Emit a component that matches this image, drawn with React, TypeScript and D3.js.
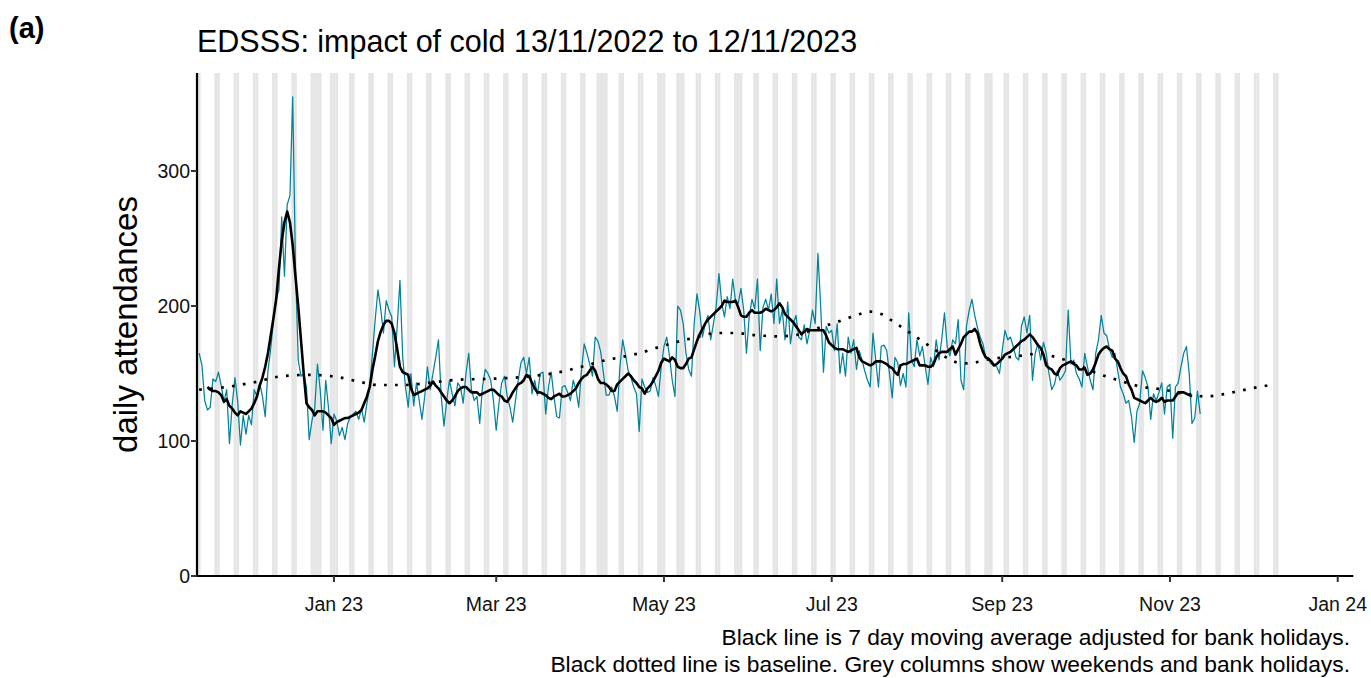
import React, { useEffect } from "react";
import * as d3 from "d3";

// ---------- data ----------
const START_DATE = "2022-11-13"; // first daily value
const CALENDAR_END = "2023-12-10"; // grey columns drawn up to this date
const X_DOMAIN = ["2022-11-12T04:48:00Z", "2024-01-06T16:48:00Z"];
const Y_MAX = 372.6;
const yTicks = [0, 100, 200, 300];

const titleText = "EDSSS: impact of cold 13/11/2022 to 12/11/2023";
const panelLabel = "(a)";
const yLabel = "daily attendances";
const captionLines = [
  "Black line is 7 day moving average adjusted for bank holidays.",
  "Black dotted line is baseline. Grey columns show weekends and bank holidays.",
];

const bankHolidays = [
  "2022-12-26", "2022-12-27", "2023-01-02", "2023-04-07", "2023-04-10",
  "2023-05-01", "2023-05-08", "2023-05-29", "2023-08-28",
];

// daily attendances, one per day from START_DATE
const dailyAttendances = [
  165, 156, 130, 123, 125, 146, 144,
  151, 141, 129, 138, 98, 127, 147,
  129, 97, 119, 105, 119, 112, 138,
  133, 143, 133, 118, 152, 168, 190,
  205, 212, 266, 222, 275, 282, 355,
  230, 160, 148, 150, 140, 101, 115,
  124, 157, 138, 108, 145, 125, 98,
  120, 115, 104, 110, 101, 113, 118,
  120, 122, 116, 124, 114, 128, 140,
  165, 190, 212, 198, 180, 204, 197,
  192, 155, 185, 219, 162, 140, 125,
  150, 126, 143, 130, 116, 133, 155,
  138, 150, 162, 175, 133, 111, 130,
  145, 135, 126, 143, 140, 128, 150,
  165, 138, 130, 133, 113, 140, 153,
  150, 145, 130, 108, 128, 143, 148,
  133, 125, 114, 130, 145, 158, 162,
  150, 162, 135, 145, 134, 150, 151,
  120, 140, 151, 133, 118, 117, 140,
  141, 136, 130, 145, 138, 125, 152,
  172, 165, 157, 148, 177, 174, 166,
  150, 134, 134, 140, 133, 122, 155,
  175, 164, 152, 147, 140, 135, 107,
  146, 140, 136, 137, 147, 141, 133,
  155, 170, 177, 163, 145, 133, 200,
  197, 187, 165, 153, 148, 187, 209,
  196, 177, 187, 193, 175, 187, 200,
  224, 202, 192, 207, 198, 220, 204,
  202, 213, 197, 165, 192, 205, 198,
  220, 167, 199, 205, 197, 209, 187,
  220, 187, 197, 175, 203, 172, 187,
  193, 177, 175, 186, 172, 182, 197,
  187, 239, 199, 151, 185, 180, 182,
  167, 187, 150, 165, 148, 177, 165,
  175, 153, 167, 160, 152, 145, 140,
  180, 160, 140, 170, 171, 167, 150,
  132, 162, 158, 141, 150, 140, 195,
  160, 155, 175, 163, 170, 155, 142,
  162, 155, 175, 160, 175, 195, 170,
  163, 175, 172, 190, 145, 138, 185,
  197, 205, 193, 184, 177, 172, 162,
  160, 157, 156, 155, 150, 167, 182,
  175, 177, 170, 162, 160, 185, 192,
  180, 193, 145, 165, 172, 160, 173,
  165, 150, 138, 142, 152, 145, 148,
  152, 197, 157, 160, 150, 146, 140,
  165, 155, 145, 138, 165, 175, 193,
  180, 178, 168, 162, 165, 152, 140,
  135, 128, 130, 118, 99, 122, 128,
  152, 147, 140, 116, 135, 130, 136,
  143, 120, 140, 142, 102, 140, 143,
  155, 165, 170, 150, 113, 117, 137,
  120,
];

// 7 day moving average, one per day starting MA_OFFSET days after START_DATE
const MA_OFFSET = 3;
const movingAverage = [
  140, 138, 137, 137, 136, 134, 129, 131, 126, 124,
  121, 119, 122, 121, 120, 122, 124, 128, 133, 141,
  147, 155, 165, 178, 191, 205, 228, 248, 262, 270,
  262, 245, 222, 200, 175, 150, 128, 125, 123, 119,
  122, 122, 122, 121, 119, 117, 112, 114, 115, 116,
  117, 117, 118, 119, 120, 121, 123, 128, 133, 140,
  153, 163, 174, 181, 186, 189, 189, 187, 180, 168,
  155, 151, 150, 149, 139, 134, 135, 136, 137, 138,
  139, 141, 144, 141, 139, 136, 133, 130, 128, 130,
  133, 137, 139, 140, 140, 138, 136, 136, 136, 134,
  135, 136, 137, 138, 138, 136, 134, 133, 130, 129,
  132, 136, 139, 142, 143, 145, 149, 148, 143, 139,
  136, 136, 135, 134, 132, 131, 133, 134, 135, 133,
  133, 134, 135, 137, 139, 143, 146, 148, 149, 152,
  155, 152, 146, 143, 143, 142, 140, 137, 137, 142,
  144, 146, 148, 150, 148, 145, 143, 140, 139, 135,
  139, 141, 144, 148, 152, 158, 161, 160, 159, 162,
  160, 155, 154, 154, 157, 161, 162, 168, 174, 179,
  183, 187, 190, 192, 194, 196, 198, 200, 204, 203,
  203, 203, 204, 199, 193, 192, 192, 195, 197, 195,
  195, 195, 196, 198, 197, 196, 197, 199, 202, 199,
  194, 192, 190, 188, 185, 182, 179, 181, 183, 182,
  182, 182, 182, 182, 182, 178, 173, 171, 169, 168,
  168, 168, 167, 166, 167, 168, 169, 162, 159, 158,
  157, 156, 157, 159, 159, 159, 158, 157, 155, 154,
  151, 149, 156, 157, 157, 158, 159, 160, 161, 156,
  156, 156, 155, 155, 157, 162, 165, 166, 166, 166,
  168, 170, 164, 168, 172, 177, 179, 181, 181, 183,
  180, 172, 166, 162, 161, 159, 156, 157, 159, 161,
  164, 165, 166, 168, 170, 172, 174, 175, 177, 179,
  177, 174, 171, 169, 164, 156, 154, 153, 150, 149,
  154, 156, 157, 158, 159, 157, 156, 153, 153, 154,
  149, 150, 153, 158, 164, 167, 169, 170, 168, 167,
  161, 159, 154, 150, 148, 142, 138, 132, 131, 130,
  129, 128, 130, 132, 130, 129, 130, 132, 129, 130,
  130, 130, 133, 136, 136, 136, 135, 134, 133,
];

// baseline, read at these day offsets from START_DATE
const baselineDay = [
  0, 10, 20, 30, 40, 50, 58, 65, 75, 85, 95, 105, 115, 123, 131, 139, 146,
  153, 160, 167, 174, 181, 188, 195, 202, 210, 217, 224, 231, 238, 244, 248,
  252, 256, 260, 264, 268, 272, 276, 280, 284, 288, 294, 300, 306, 310, 315,
  320, 326, 331, 335, 339, 343, 347, 351, 355, 360, 366, 372, 378, 384, 391,
];
const baselineValue = [
  138, 140, 143.5, 148, 149, 147.5, 144, 141.5, 141.5, 143.5, 145.5, 146, 147,
  148.5, 151, 155, 159, 162, 165, 169.5, 173.5, 177, 180, 180, 178.5, 177.5,
  178.5, 183, 187.5, 192.5, 195.8, 194, 189, 183.5, 178, 172.5, 167, 161.5,
  158, 157.5, 159, 161, 162, 163.5, 165, 163, 160, 156, 150.5, 147, 144.5,
  142, 140, 139, 138, 136, 134.5, 133, 134.5, 137, 139.5, 142,
];

// ---------- chart ----------
const W = 1371;
const H = 678;
const PLOT = { left: 197, right: 1353.4, top: 73, bottom: 576 };
const FONT = "'Liberation Sans', Arial, Helvetica, sans-serif";
const TEAL = "#03829a";
const GREY = "#e5e5e5";
const DAY_MS = 864e5;

export default function App() {
  useEffect(() => {
    document.body.style.margin = "0";
    document.body.style.overflow = "hidden";
  }, []);

  const x = d3
    .scaleUtc()
    .domain(X_DOMAIN.map((s) => new Date(s)))
    .range([PLOT.left, PLOT.right]);
  const y = d3.scaleLinear().domain([0, Y_MAX]).range([PLOT.bottom, PLOT.top]);

  const start = new Date(START_DATE + "T00:00:00Z");
  const calEnd = new Date(CALENDAR_END + "T00:00:00Z");
  const dayDate = (i: number) => d3.utcDay.offset(start, i);
  const fmtISO = d3.utcFormat("%Y-%m-%d");
  const holidaySet = new Set(bankHolidays);

  const greyDays = d3
    .utcDay.range(start, d3.utcDay.offset(calEnd, 1))
    .filter((d) => {
      const w = d.getUTCDay();
      return w === 0 || w === 6 || holidaySet.has(fmtISO(d));
    });

  const dailyLine = d3
    .line<number>()
    .x((_, i) => x(dayDate(i)))
    .y((v) => y(v));

  const maLine = d3
    .line<number>()
    .x((_, i) => x(dayDate(i + MA_OFFSET)))
    .y((v) => y(v));

  const baselinePts = baselineDay.map((d, i) => [d, baselineValue[i]] as [number, number]);
  const baseLine = d3
    .line<[number, number]>()
    .x((p) => x(dayDate(p[0])))
    .y((p) => y(p[1]))
    .curve(d3.curveMonotoneX);

  const xTicks = x.ticks(d3.utcMonth.every(2) as any);
  const fmtTick = d3.utcFormat("%b %y");

  return (
    <svg
      width={W}
      height={H}
      viewBox={`0 0 ${W} ${H}`}
      style={{ position: "absolute", left: 0, top: 0, display: "block", background: "#fff" }}
      fontFamily={FONT}
    >
      <rect x={0} y={0} width={W} height={H} fill="#fff" />
      {/* grey columns */}
      <g>
        {greyDays.map((d, i) => {
          const x0 = x(new Date(+d - DAY_MS / 2));
          const x1 = x(new Date(+d + DAY_MS / 2));
          return (
            <rect
              key={i}
              x={x0}
              y={PLOT.top}
              width={x1 - x0}
              height={PLOT.bottom - PLOT.top}
              fill={GREY}
            />
          );
        })}
      </g>

      {/* daily series */}
      <path d={dailyLine(dailyAttendances) || ""} fill="none" stroke={TEAL} strokeWidth={1.25} strokeLinejoin="round" />

      {/* baseline */}
      <path
        d={baseLine(baselinePts) || ""}
        fill="none"
        stroke="#000"
        strokeWidth={2.7}
        strokeDasharray="2.7 8.3"
      />

      {/* moving average */}
      <path d={maLine(movingAverage) || ""} fill="none" stroke="#000" strokeWidth={2.6} strokeLinejoin="round" />

      {/* axes */}
      <line x1={PLOT.left} x2={PLOT.left} y1={PLOT.top} y2={PLOT.bottom + 1} stroke="#000" strokeWidth={2.2} />
      <line x1={PLOT.left - 1} x2={PLOT.right} y1={PLOT.bottom} y2={PLOT.bottom} stroke="#000" strokeWidth={2.2} />

      {yTicks.map((t) => (
        <g key={"y" + t}>
          <line x1={PLOT.left - 6} x2={PLOT.left} y1={y(t)} y2={y(t)} stroke="#333" strokeWidth={2} />
          <text x={PLOT.left - 7} y={y(t)} dy="0.35em" textAnchor="end" fontSize={19.5} fill="#111">
            {t}
          </text>
        </g>
      ))}

      {xTicks.map((t, i) => (
        <g key={"x" + i}>
          <line x1={x(t)} x2={x(t)} y1={PLOT.bottom} y2={PLOT.bottom + 6} stroke="#333" strokeWidth={2} />
          <text x={x(t)} y={PLOT.bottom + 35} textAnchor="middle" fontSize={19.5} fill="#111">
            {fmtTick(t)}
          </text>
        </g>
      ))}

      {/* labels */}
      <text
        transform={`translate(137, ${(PLOT.top + PLOT.bottom) / 2}) rotate(-90)`}
        textAnchor="middle"
        fontSize={33}
        fill="#000"
      >
        {yLabel}
      </text>
      <text x={PLOT.left} y={52} fontSize={30.5} fill="#000">
        {titleText}
      </text>
      <text x={9} y={38} fontSize={29} fontWeight="bold" fill="#000">
        {panelLabel}
      </text>
      {captionLines.map((c, i) => (
        <text key={i} x={1350} y={645 + i * 27} textAnchor="end" fontSize={22.8} fill="#000">
          {c}
        </text>
      ))}
    </svg>
  );
}
